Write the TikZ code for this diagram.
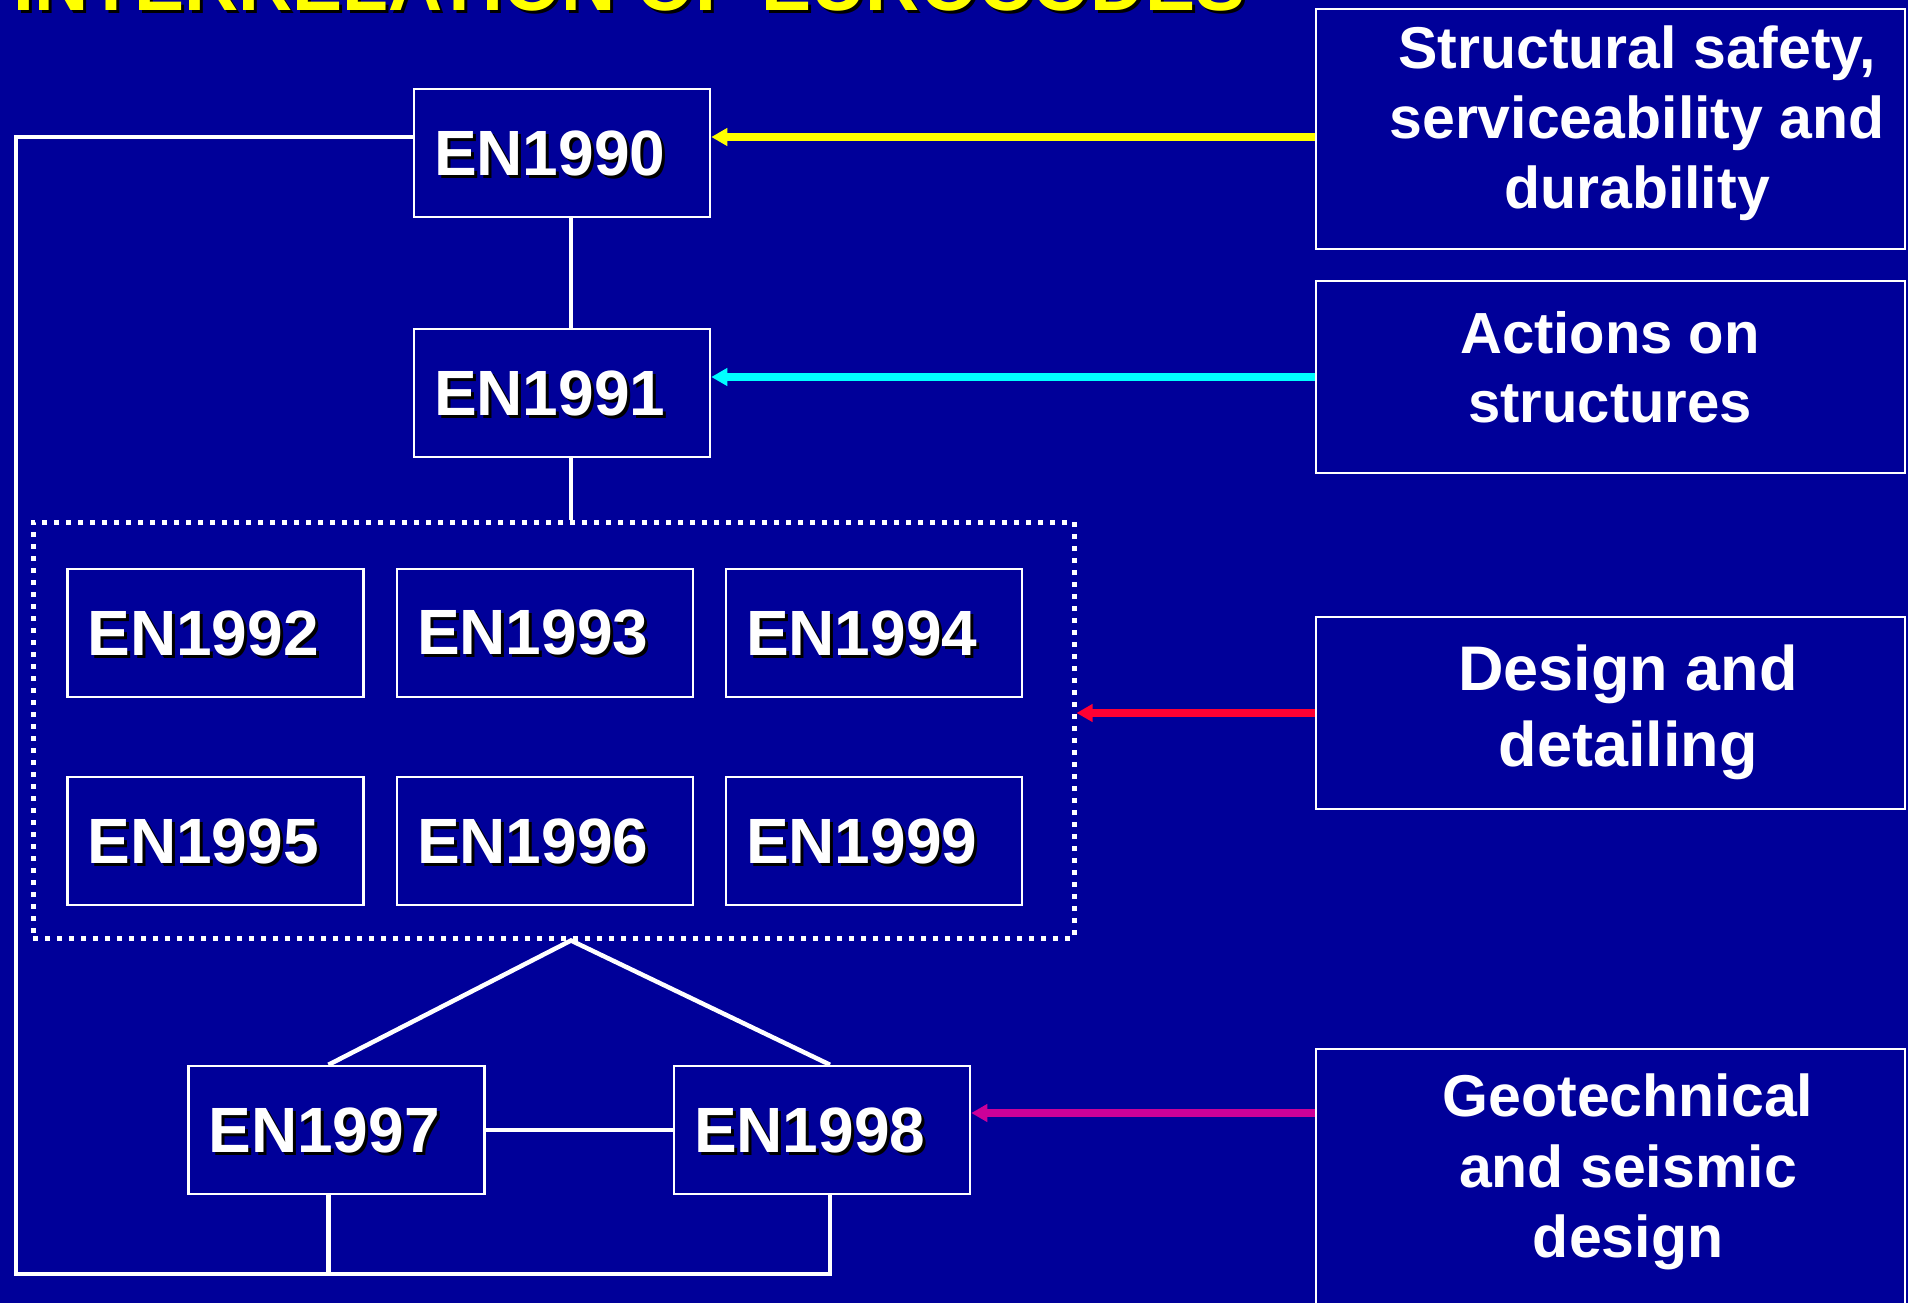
\documentclass[tikz,border=0pt]{standalone}
\usepackage{fontspec}
\setmainfont{Liberation Sans}
\usetikzlibrary{arrows.meta,calc,positioning}
\definecolor{slide}{HTML}{000099}
\definecolor{hilite}{HTML}{FFFF00}
\definecolor{loads}{HTML}{00FFFF}
\definecolor{detail}{HTML}{FF0033}
\definecolor{seismic}{HTML}{CC0099}
\newcommand{\shtext}[1]{\smash{\makebox[0pt][l]{\kern3pt\raisebox{-3pt}{\color{black}#1}}}#1}

\begin{document}
\begin{tikzpicture}[x=1pt,y=-1pt,every node/.style={font=\bfseries,text=white},
  enbox/.style={draw=white,line width=2.5pt,minimum width=296pt,minimum height=128pt,
    text width=256pt,inner xsep=20pt,align=left,font=\fontsize{64}{70}\selectfont\bfseries},
  sidebox/.style={draw=white,line width=2.5pt,minimum width=589pt,inner sep=0pt},
  sidetext/.style={anchor=north,inner sep=0pt,align=center},
  groupbox/.style={draw=white,line width=5pt,dash pattern=on 5pt off 7pt,
    minimum width=1041pt,minimum height=416pt},
  link/.style={white,line width=4.5pt},
  feed/.style={line width=7.5pt,-{Triangle[length=16pt,width=17pt]}}]
\fill[slide] (0,0) rectangle (1908,1303);
\useasboundingbox (0,0) rectangle (1908,1303);
\node[anchor=base west,inner sep=0pt,text=hilite,font=\fontsize{75}{80}\selectfont\bfseries]
  (title) at (13,11) {\shtext{INTERRELATION OF EUROCODES}};
\node[enbox] (en1990) at (562,153) {\shtext{EN1990}};
\node[enbox] (en1991) at (562,393) {\shtext{EN1991}};
\node[groupbox] (group) at (553.5,730) {};
\foreach \n/\x/\y in {1992/215.5/633,1993/545/633,1994/874/633,
  1995/215.5/841,1996/545/841,1999/874/841}{
\node[enbox] (en\n) at (\x,\y) {\shtext{EN\n}};}
\node[enbox] (en1997) at (336.5,1130) {\shtext{EN1997}};
\node[enbox] (en1998) at (822,1130) {\shtext{EN1998}};
\node[sidebox,minimum height=240pt] (safety) at (1610.5,129) {};
\node[sidebox,minimum height=192pt] (actions) at (1610.5,377) {};
\node[sidebox,minimum height=192pt] (design) at (1610.5,713) {};
\node[sidebox,minimum height=262pt] (geo) at (1610.5,1180) {};
\node[sidetext,font=\fontsize{59}{70}\selectfont\bfseries] (safetytxt) at (1637,26)
  {Structural safety,\\serviceability and\\durability};
\node[sidetext,font=\fontsize{58}{69}\selectfont\bfseries] (actionstxt) at (1610,311)
  {Actions on\\structures};
\node[sidetext,font=\fontsize{63}{76}\selectfont\bfseries] (designtxt) at (1628,645)
  {Design and\\detailing};
\node[sidetext,font=\fontsize{59}{70.5}\selectfont\bfseries] (geotxt) at (1628,1074)
  {Geotechnical\\and seismic\\design};
\coordinate (ysafe) at (0,137);
\coordinate (yload) at (0,377);
\coordinate (ydet) at (0,713);
\coordinate (ygeo) at (0,1113);
\coordinate (corner) at (16,1274);
\coordinate (peak) at ([xshift=17.5pt]group.south);
\coordinate (l97) at ([xshift=-8pt]en1997.south);
\coordinate (r98) at ([xshift=8pt]en1998.south);
\draw[link] ([xshift=9pt]en1990.south) -- ([xshift=9pt]en1991.north);
\draw[link] ([xshift=9pt]en1991.south) -- (peak |- group.north);
\draw[link] ([xshift=-8pt]en1997.north) -- (peak) -- ([xshift=8pt]en1998.north);
\draw[link] (en1997.east) -- (en1998.west);
\draw[link] (en1990.west |- ysafe) -| (corner) -| (r98);
\draw[link] (l97) -- (l97 |- corner);
\draw[feed,hilite] (safety.west |- ysafe) -- (en1990.east |- ysafe);
\draw[feed,loads] (actions.west |- yload) -- (en1991.east |- yload);
\draw[feed,detail] (design.west |- ydet) -- (group.east |- ydet);
\draw[feed,seismic] (geo.west |- ygeo) -- (en1998.east |- ygeo);
\end{tikzpicture}
\end{document}
